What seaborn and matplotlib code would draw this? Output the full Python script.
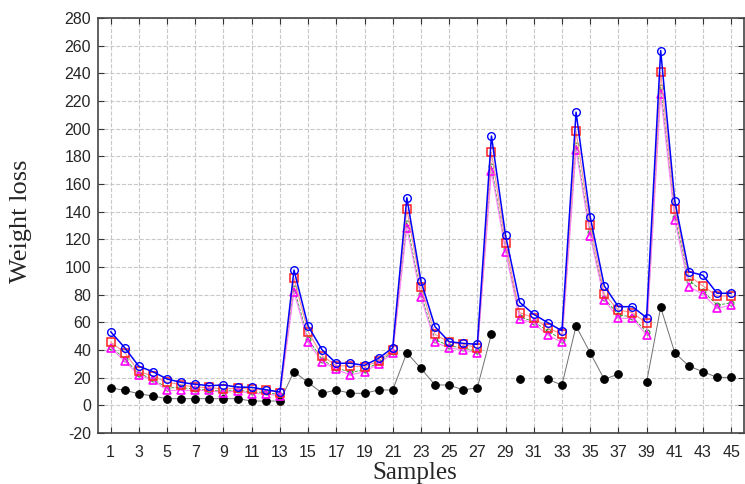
import numpy as np
import pandas as pd
import matplotlib
matplotlib.use("Agg")
import matplotlib.pyplot as plt
import seaborn as sns

# sample numbers
samples = np.arange(1, 46)

# series
blue = [53.2, 41.6, 28.2, 24.3, 19.0, 16.6, 15.2, 14.2, 14.7, 13.2, 13.0, 11.3, 9.6,
        97.8, 57.3, 40.0, 30.4, 30.4, 28.9, 34.0, 41.6, 150.1, 89.9, 56.8, 46.0,
        44.8, 44.1, 194.7, 122.9, 74.5, 65.8, 59.7, 53.9, 211.9, 136.4, 86.3, 71.3,
        71.3, 63.3, 256.5, 147.9, 96.6, 94.0, 81.0, 81.0]
red = [45.8, 38.0, 24.6, 21.0, 16.8, 14.9, 13.0, 13.0, 11.6, 12.5, 11.6, 11.1, 9.1,
       91.8, 53.2, 35.9, 28.6, 28.4, 27.9, 32.0, 40.0, 141.9, 85.8, 51.3, 45.5,
       44.1, 41.6, 182.9, 117.1, 67.0, 63.3, 55.7, 51.6, 198.3, 130.4, 80.3, 68.9,
       67.0, 59.3, 240.8, 141.9, 93.7, 86.3, 79.0, 79.0]
green = [42.5, 33.5, 23.0, 19.0, 12.5, 13.0, 11.5, 11.2, 10.0, 11.2, 9.5, 9.5, 7.5,
         85.0, 48.0, 33.0, 27.0, 24.0, 25.5, 31.0, 38.5, 132.0, 80.5, 47.5, 43.0,
         41.5, 39.0, 173.0, 113.0, 64.0, 60.5, 53.7, 47.5, 188.0, 125.0, 77.5, 65.3,
         64.0, 53.0, 230.0, 136.5, 90.1, 82.5, 72.5, 74.0]
magenta = [41.6, 31.8, 21.9, 18.1, 10.8, 10.8, 10.8, 10.8, 9.1, 10.6, 8.4, 8.4, 6.7,
           82.1, 45.5, 31.5, 26.0, 21.9, 24.3, 29.9, 37.6, 128.4, 78.1, 45.5, 41.6,
           40.0, 38.0, 169.4, 111.1, 62.4, 59.3, 50.8, 45.5, 184.6, 122.6, 76.1, 62.9,
           62.9, 50.8, 224.9, 134.0, 85.8, 80.3, 70.1, 72.5]
black = [12.7, 10.8, 8.4, 6.7, 4.8, 4.8, 4.8, 4.8, 4.8, 4.8, 3.1, 3.1, 3.1,
         24.3, 16.6, 8.7, 11.1, 8.7, 8.7, 11.1, 11.1, 38.0, 26.7, 14.7, 14.7,
         11.1, 12.7, 51.6, np.nan, 18.8, np.nan, 18.8, 14.7, 57.3, 38.0, 18.8, 22.6,
         np.nan, 16.6, 70.9, 38.0, 28.4, 24.3, 20.2, 20.2]

y_ticks = np.arange(-20, 281, 20)
x_ticks = np.arange(1, 46, 2)

sns.set_style("ticks")
plt.rcParams["font.family"] = ["Liberation Sans", "DejaVu Sans"]
plt.rcParams["axes.unicode_minus"] = False

fig = plt.figure(figsize=(7.45, 4.84), dpi=100)
ax = fig.add_axes([0.1315, 0.1054, 0.867, 0.8574])

# black series has gaps: draw each contiguous run on its own
blk = pd.DataFrame({"x": samples, "y": black})
blk["run"] = blk["y"].isna().cumsum()
blk = blk.dropna()
for _, seg in blk.groupby("run"):
    sns.lineplot(data=seg, x="x", y="y", ax=ax, color="#707070", lw=0.7,
                 marker="o", markersize=5.5, markerfacecolor="black",
                 markeredgecolor="black", zorder=2)

sns.lineplot(x=samples, y=green, ax=ax, color="#2a9a2a", lw=0.6, ls="--",
             marker="o", markersize=3.5, markerfacecolor="none",
             markeredgecolor="#1a8a1a", zorder=2.5)
sns.lineplot(x=samples, y=magenta, ax=ax, color="#ff80ff", lw=0.8,
             marker="^", markersize=5.5, markerfacecolor="none",
             markeredgecolor="#ff00ff", markeredgewidth=1.2, zorder=3)
sns.lineplot(x=samples, y=red, ax=ax, color="#ff9090", lw=0.8,
             marker="s", markersize=6, markerfacecolor="none",
             markeredgecolor="#ff2020", markeredgewidth=1.1, zorder=4)
sns.lineplot(x=samples, y=blue, ax=ax, color="#0000ff", lw=1.1,
             marker="o", markersize=5.5, markerfacecolor="none",
             markeredgecolor="#0000ff", markeredgewidth=1.0, zorder=5)

ax.set_xlim(0.1, 45.9)
ax.set_ylim(-20, 280)
ax.set_xticks(x_ticks)
ax.set_yticks(y_ticks)
ax.tick_params(direction="in", top=True, right=True, labelsize=11.5,
               length=4, color="#333333")
ax.tick_params(axis="x", pad=9)
ax.tick_params(axis="y", pad=5)
ax.grid(True, ls="--", color="#c8c8c8", lw=0.8)
for s in ax.spines.values():
    s.set_color("#444444")
    s.set_linewidth(1.2)

ax.set_xlabel("Samples", family=["Liberation Serif", "DejaVu Serif"],
              fontsize=18)
ax.set_ylabel("Weight loss", family=["Liberation Serif", "DejaVu Serif"],
              fontsize=19)
ax.xaxis.set_label_coords(0.491, -0.071)
ax.yaxis.set_label_coords(-0.102, 0.51)

fig.savefig("out.png", dpi=100)
